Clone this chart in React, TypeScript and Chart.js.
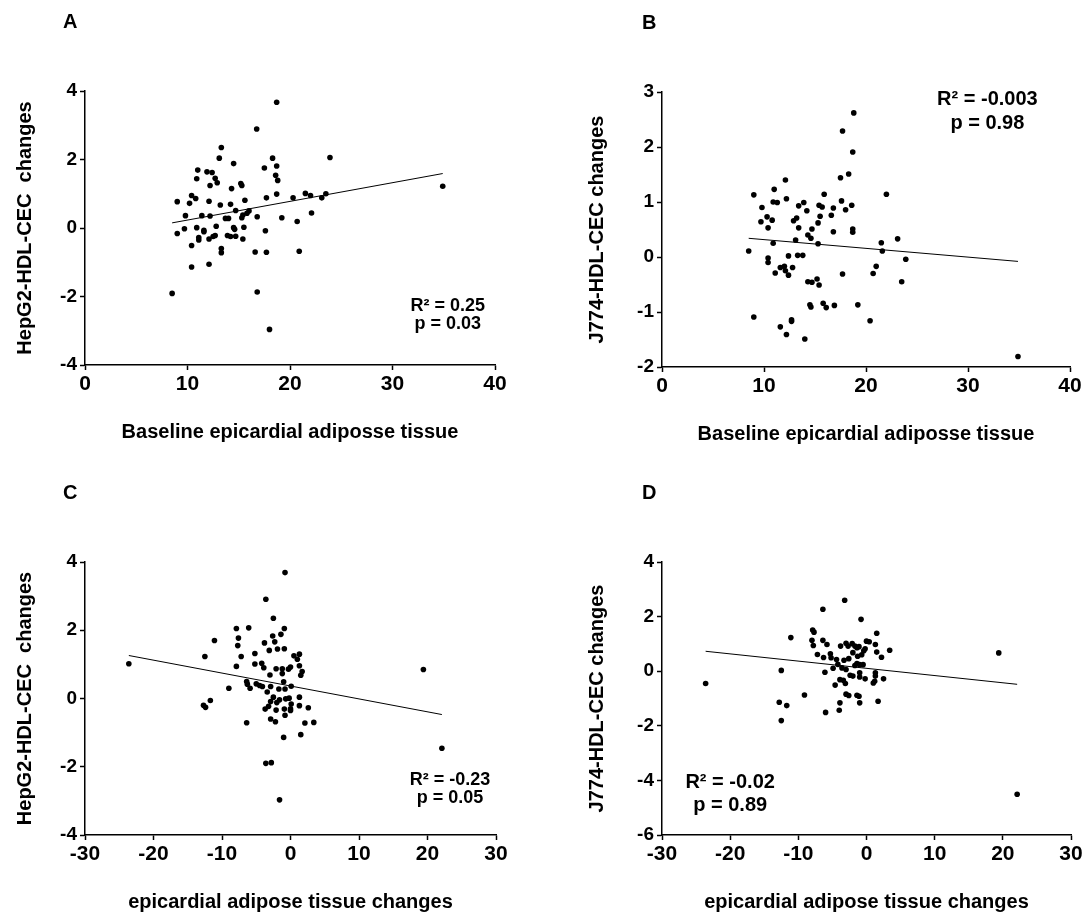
import React, { useEffect, useRef } from "react";
import { Chart, registerables } from "chart.js";
Chart.register(...registerables);

const FONT = '"Liberation Sans", Arial, Helvetica, sans-serif';

// ---------- Panel A: HepG2 vs baseline EAT ----------
const aX = [18.7,16.75,13.3,13.1,14.5,18.3,23.9,17.5,18.7,11.0,11.9,12.4,10.9,12.7,12.9,12.2,18.6,18.8,15.2,15.3,14.3,34.9,10.4,10.8,10.2,9.0,12.1,13.2,14.2,15.6,17.7,18.7,20.3,21.5,22.0,23.1,23.5,9.8,11.4,12.2,13.7,14.0,14.7,15.3,15.4,15.8,16.0,16.8,19.2,20.7,22.1,9.0,9.7,10.9,11.1,11.1,11.6,11.6,12.1,12.5,12.7,12.8,13.9,14.2,14.5,14.6,14.7,15.5,15.4,17.6,10.4,13.3,13.3,16.6,17.7,20.9,10.4,12.1,8.5,16.8,18.0];
const aY = [3.67,2.89,2.35,2.04,1.88,2.04,2.06,1.75,1.81,1.69,1.64,1.62,1.44,1.45,1.32,1.24,1.54,1.39,1.30,1.24,1.15,1.22,0.95,0.86,0.72,0.77,0.78,0.67,0.69,0.81,0.88,0.99,0.88,1.01,0.95,0.88,1.00,0.36,0.36,0.35,0.28,0.28,0.51,0.30,0.38,0.43,0.50,0.33,0.30,0.19,0.44,-0.16,-0.02,0.01,-0.28,-0.35,-0.07,-0.11,-0.32,-0.25,-0.22,0.05,-0.22,-0.25,0.01,-0.04,-0.24,0.02,-0.32,-0.08,-0.51,-0.60,-0.72,-0.70,-0.71,-0.68,-1.14,-1.06,-1.91,-1.87,-2.96];
const aFitX = [8.5, 34.9];
const aFitY = [0.15, 1.59];

// ---------- Panel B: J774 vs baseline EAT ----------
const bX = [18.8,17.7,18.7,18.3,17.5,12.1,11.0,9.0,15.9,22.0,12.2,10.9,11.3,13.9,17.6,13.4,15.4,15.7,18.6,9.8,14.2,16.8,18.0,10.3,9.7,10.8,12.9,13.2,15.5,16.6,10.4,13.4,14.7,15.3,16.8,18.7,18.7,14.3,14.6,13.1,10.9,15.3,21.5,23.1,8.5,21.6,12.4,13.3,13.8,10.4,10.4,23.9,11.1,11.6,12.0,12.1,12.4,12.8,17.7,21.0,20.7,14.3,14.7,15.2,15.4,23.5,14.5,14.6,15.8,16.1,16.9,19.2,9.0,12.7,12.7,20.4,11.6,12.2,14.0,34.9];
const bY = [2.62,2.29,1.91,1.51,1.44,1.40,1.23,1.13,1.14,1.14,1.06,1.00,0.99,0.99,1.02,0.93,0.94,0.91,0.94,0.90,0.84,0.89,0.86,0.73,0.64,0.67,0.66,0.71,0.74,0.76,0.53,0.53,0.51,0.62,0.46,0.51,0.45,0.40,0.34,0.31,0.25,0.24,0.26,0.33,0.11,0.11,0.02,0.03,0.03,-0.02,-0.10,-0.04,-0.29,-0.19,-0.17,-0.25,-0.33,-0.19,-0.31,-0.17,-0.30,-0.45,-0.46,-0.40,-0.51,-0.45,-0.87,-0.91,-0.84,-0.92,-0.88,-0.87,-1.09,-1.14,-1.17,-1.16,-1.27,-1.41,-1.49,-1.81];
const bFitX = [8.5, 34.9];
const bFitY = [0.34, -0.08];

// ---------- Panel C: HepG2 vs EAT changes ----------
const cX = [-0.8,-3.6,-2.5,-7.9,-6.1,-0.9,-1.4,-7.6,-11.1,-3.8,-2.3,-2.6,-7.7,-0.9,-1.9,-3.1,-5.2,-12.5,-7.2,0.5,1.3,1.0,-23.6,-5.2,-4.2,-7.9,-3.9,-2.1,-1.2,-0.3,0.0,1.3,1.7,1.5,-1.2,-3.0,19.4,-6.4,-6.3,-5.9,-9.0,-5.0,-4.5,-4.1,-2.9,-1.0,-1.7,-0.8,0.1,-3.4,-2.5,-1.6,-0.7,-0.2,1.3,-2.9,-11.7,-12.7,-12.4,-2.0,0.1,1.3,2.6,-3.2,-3.7,-2.1,-0.9,0.0,0.0,-0.8,-2.9,-2.2,-6.4,2.1,3.4,1.5,-1.0,22.1,-3.6,-2.8,-1.6];
const cY = [3.69,2.91,2.35,2.05,2.07,2.05,1.88,1.77,1.70,1.63,1.66,1.83,1.55,1.46,1.45,1.41,1.32,1.23,1.23,1.25,1.30,1.15,1.02,1.01,1.03,0.94,0.90,0.87,0.87,0.86,0.92,0.96,0.79,0.68,0.73,0.69,0.85,0.50,0.42,0.30,0.30,0.43,0.38,0.35,0.35,0.49,0.28,0.28,0.36,0.19,0.04,-0.04,-0.01,0.01,0.04,-0.09,-0.06,-0.20,-0.26,-0.12,-0.16,-0.21,-0.27,-0.23,-0.31,-0.34,-0.31,-0.30,-0.35,-0.49,-0.60,-0.68,-0.71,-0.72,-0.70,-1.06,-1.14,-1.46,-1.90,-1.88,-2.97];
const cFitX = [-23.6, 22.1];
const cFitY = [1.26, -0.47];

// ---------- Panel D: J774 vs EAT changes ----------
const dX = [-3.2,-6.4,-0.8,-7.9,-7.7,1.5,-11.1,-8.0,-6.4,-7.8,-5.8,-3.8,-3.0,-2.7,-2.1,-1.7,-1.4,-1.1,0.0,0.4,1.3,1.5,3.4,2.2,-7.2,-6.3,-5.3,-5.2,-4.4,-3.3,-2.6,-2.0,-1.3,-0.7,-0.4,-0.2,-1.4,-1.7,-1.0,-0.5,-4.2,-3.6,-4.9,-3.0,-6.1,-12.5,-2.4,-2.0,-1.0,-1.0,-0.2,1.3,1.3,2.5,1.0,1.2,-3.9,-3.4,-4.6,-3.1,-9.1,-3.0,-2.6,-1.4,-1.1,-12.8,-11.7,-3.9,-1.0,1.7,-4.0,-6.0,-12.5,-23.6,19.4,22.1];
const dY = [2.60,2.27,1.90,1.51,1.43,1.39,1.23,1.13,1.13,0.94,0.98,0.92,1.02,0.92,1.01,0.92,0.86,0.90,1.10,1.08,0.98,0.70,0.77,0.51,0.61,0.50,0.64,0.49,0.43,0.40,0.46,0.68,0.55,0.60,0.75,0.82,0.28,0.21,0.24,0.24,0.25,0.12,0.11,0.06,-0.04,0.03,-0.15,-0.18,-0.06,-0.21,-0.28,-0.06,-0.18,-0.28,-0.43,-0.37,-0.31,-0.33,-0.51,-0.45,-0.87,-0.84,-0.89,-0.88,-0.92,-1.14,-1.26,-1.16,-1.16,-1.10,-1.43,-1.51,-1.81,-0.45,0.67,-4.51];
const dFitX = [-23.6, 22.1];
const dFitY = [0.73, -0.48];

// ---------- Axis ranges / ticks / labels ----------
const xBaselineRange = [0, 40];
const xChangeRange = [-30, 30];
const xStep = 10;
const yHepRange = [-4, 4];
const yJ774BRange = [-2, 3];
const yJ774DRange = [-6, 4];

const labelHepG2 = "HepG2-HDL-CEC  changes";
const labelJ774 = "J774-HDL-CEC changes";
const labelBaseline = "Baseline epicardial adiposse tissue";
const labelChange = "epicardial adipose tissue changes";

const statsA = ["R\u00B2 = 0.25", "p = 0.03"];
const statsB = ["R\u00B2 = -0.003", "p = 0.98"];
const statsC = ["R\u00B2 = -0.23", "p = 0.05"];
const statsD = ["R\u00B2 = -0.02", "p = 0.89"];

type PanelCfg = {
  letter: string;
  left: number; top: number; width: number; height: number;
  xs: number[]; ys: number[]; fitX: number[]; fitY: number[];
  xRange: number[]; yRange: number[]; yStep: number;
  xTitle: string; yTitle: string;
  pad: { top: number; right: number; bottom: number };
  yAxisWidth: number; yTitlePad: number;
  letterPos: [number, number];
  stats: string[]; statAt: [number, number]; statSize: number; statGap: number;
};

const panels: PanelCfg[] = [
  { letter: "A", left: 0, top: 0, width: 560, height: 460, xs: aX, ys: aY, fitX: aFitX, fitY: aFitY,
    xRange: xBaselineRange, yRange: yHepRange, yStep: 2, xTitle: labelBaseline, yTitle: labelHepG2,
    pad: { top: 91, right: 65, bottom: 16 }, yAxisWidth: 85, yTitlePad: 13, letterPos: [63, 22],
    stats: statsA, statAt: [35.4, -2.27], statSize: 18, statGap: 18.6 },
  { letter: "B", left: 560, top: 0, width: 528, height: 460, xs: bX, ys: bY, fitX: bFitX, fitY: bFitY,
    xRange: xBaselineRange, yRange: yJ774BRange, yStep: 1, xTitle: labelBaseline, yTitle: labelJ774,
    pad: { top: 92, right: 18, bottom: 14 }, yAxisWidth: 102, yTitlePad: 25.5, letterPos: [82, 23],
    stats: statsB, statAt: [31.9, 2.86], statSize: 20, statGap: 24 },
  { letter: "C", left: 0, top: 460, width: 560, height: 456, xs: cX, ys: cY, fitX: cFitX, fitY: cFitY,
    xRange: xChangeRange, yRange: yHepRange, yStep: 2, xTitle: labelChange, yTitle: labelHepG2,
    pad: { top: 102, right: 64, bottom: 2 }, yAxisWidth: 85, yTitlePad: 13, letterPos: [63, 33],
    stats: statsC, statAt: [23.3, -2.38], statSize: 18, statGap: 18.5 },
  { letter: "D", left: 560, top: 460, width: 528, height: 456, xs: dX, ys: dY, fitX: dFitX, fitY: dFitY,
    xRange: xChangeRange, yRange: yJ774DRange, yStep: 2, xTitle: labelChange, yTitle: labelJ774,
    pad: { top: 102, right: 17, bottom: 2 }, yAxisWidth: 102, yTitlePad: 25, letterPos: [82, 33],
    stats: statsD, statAt: [-20.0, -4.08], statSize: 20, statGap: 23.3 },
];

const textPlugin = {
  id: "panelText",
  afterDraw(chart: any, _args: any, opts: any) {
    const { ctx, scales } = chart;
    ctx.save();
    ctx.fillStyle = "#000";
    ctx.textBaseline = "middle";
    ctx.font = `bold 20px ${FONT}`;
    ctx.textAlign = "left";
    ctx.fillText(opts.letter, opts.letterPos[0], opts.letterPos[1]);
    ctx.font = `bold ${opts.statSize}px ${FONT}`;
    ctx.textAlign = "center";
    const px = scales.x.getPixelForValue(opts.statAt[0]);
    const py = scales.y.getPixelForValue(opts.statAt[1]);
    opts.stats.forEach((s: string, i: number) => ctx.fillText(s, px, py + i * opts.statGap));
    ctx.restore();
  },
};

function makeConfig(p: PanelCfg): any {
  const pts = p.xs.map((x, i) => ({ x, y: p.ys[i] }));
  const fit = p.fitX.map((x, i) => ({ x, y: p.fitY[i] }));
  const tickFontX = { family: FONT, size: 21, weight: "bold" as const };
  const tickFontY = { family: FONT, size: 19, weight: "bold" as const };
  const titleFont = { family: FONT, size: 20, weight: "bold" as const };
  return {
    type: "scatter",
    data: {
      datasets: [
        { data: pts, pointRadius: 2.8, pointHoverRadius: 2.8, backgroundColor: "#000", borderWidth: 0, showLine: false },
        { data: fit, showLine: true, pointRadius: 0, borderColor: "#000", borderWidth: 1, fill: false },
      ],
    },
    options: {
      animation: false,
      responsive: false,
      maintainAspectRatio: false,
      events: [],
      layout: { padding: { left: 0, top: p.pad.top, right: p.pad.right, bottom: p.pad.bottom } },
      plugins: {
        legend: { display: false },
        tooltip: { enabled: false },
        panelText: { letter: p.letter, letterPos: p.letterPos, stats: p.stats, statAt: p.statAt, statSize: p.statSize, statGap: p.statGap },
      },
      scales: {
        x: {
          type: "linear",
          min: p.xRange[0],
          max: p.xRange[1],
          afterFit: (s: any) => { s.height = 79; },
          ticks: { stepSize: xStep, autoSkip: false, maxRotation: 0, font: tickFontX, color: "#000", padding: 2 },
          grid: { drawOnChartArea: false, drawTicks: true, tickLength: 5, tickColor: "#000", tickWidth: 1.5 },
          border: { display: true, color: "#000", width: 1.5 },
          title: { display: true, text: p.xTitle, font: titleFont, color: "#000", padding: { top: 0, bottom: 0 } },
        },
        y: {
          type: "linear",
          min: p.yRange[0],
          max: p.yRange[1],
          afterFit: (s: any) => { s.width = p.yAxisWidth; },
          ticks: { stepSize: p.yStep, autoSkip: false, font: tickFontY, color: "#000", padding: 3 },
          grid: { drawOnChartArea: false, drawTicks: true, tickLength: 5, tickColor: "#000", tickWidth: 1.5 },
          border: { display: true, color: "#000", width: 1.5 },
          title: { display: true, text: p.yTitle, font: titleFont, color: "#000", padding: { top: p.yTitlePad, bottom: 0 } },
        },
      },
    },
    plugins: [textPlugin],
  };
}

function Panel({ cfg }: { cfg: PanelCfg }) {
  const ref = useRef<HTMLCanvasElement | null>(null);
  useEffect(() => {
    if (!ref.current) return;
    const chart = new Chart(ref.current, makeConfig(cfg));
    return () => chart.destroy();
  }, [cfg]);
  return (
    <canvas
      ref={ref}
      width={cfg.width}
      height={cfg.height}
      style={{ position: "absolute", left: cfg.left, top: cfg.top, width: cfg.width, height: cfg.height }}
    />
  );
}

export default function App() {
  return (
    <div style={{ position: "fixed", left: 0, top: 0, width: 1088, height: 916, background: "#fff", overflow: "hidden" }}>
      {panels.map((p) => (
        <Panel key={p.letter} cfg={p} />
      ))}
    </div>
  );
}
